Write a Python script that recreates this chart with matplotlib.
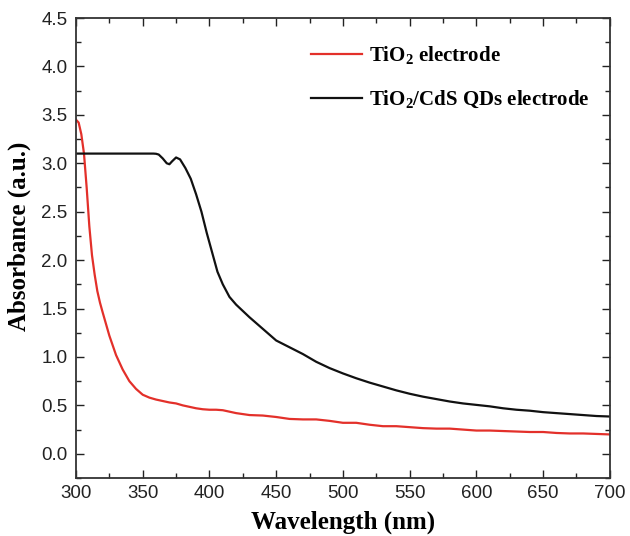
import matplotlib
matplotlib.use("Agg")
import matplotlib.pyplot as plt
from matplotlib.ticker import MultipleLocator

# TiO2 electrode
tio2_wl = [300, 302, 304, 306, 308, 310, 312, 314, 316, 318, 320, 325, 330,
           335, 340, 345, 350, 355, 360, 365, 370, 375, 380, 385, 390, 395,
           400, 405, 410, 415, 420, 430, 440, 450, 460, 470, 480, 490, 500,
           510, 520, 530, 540, 550, 560, 570, 580, 590, 600, 610, 620, 630,
           640, 650, 660, 670, 680, 690, 700]
tio2_abs = [3.45, 3.42, 3.30, 3.10, 2.75, 2.35, 2.05, 1.85, 1.68, 1.56, 1.46,
            1.22, 1.02, 0.87, 0.75, 0.67, 0.61, 0.58, 0.56, 0.545, 0.53, 0.52,
            0.50, 0.485, 0.47, 0.46, 0.455, 0.455, 0.45, 0.435, 0.42, 0.40,
            0.395, 0.38, 0.36, 0.355, 0.355, 0.34, 0.32, 0.32, 0.30, 0.285,
            0.285, 0.275, 0.265, 0.26, 0.26, 0.25, 0.24, 0.24, 0.235, 0.23,
            0.225, 0.225, 0.215, 0.21, 0.21, 0.205, 0.20]

# TiO2/CdS QDs electrode
cds_wl = [300, 320, 340, 358, 360, 362, 365, 368, 370, 372, 375, 378, 382,
          386, 390, 394, 398, 402, 406, 410, 415, 420, 430, 440, 450, 460,
          470, 480, 490, 500, 510, 520, 530, 540, 550, 560, 570, 580, 590,
          600, 610, 620, 630, 640, 650, 660, 670, 680, 690, 700]
cds_abs = [3.10, 3.10, 3.10, 3.10, 3.098, 3.09, 3.05, 3.00, 2.99, 3.02, 3.06,
           3.04, 2.95, 2.84, 2.68, 2.50, 2.28, 2.08, 1.88, 1.75, 1.62, 1.54,
           1.41, 1.29, 1.17, 1.10, 1.03, 0.95, 0.885, 0.83, 0.78, 0.735,
           0.695, 0.655, 0.62, 0.59, 0.565, 0.54, 0.52, 0.505, 0.49, 0.47,
           0.455, 0.445, 0.43, 0.42, 0.41, 0.40, 0.39, 0.385]

plt.rcParams["font.family"] = "Liberation Sans"
plt.rcParams["mathtext.fontset"] = "custom"
plt.rcParams["mathtext.rm"] = "Liberation Serif:bold"
plt.rcParams["mathtext.it"] = "Liberation Serif:bold"
plt.rcParams["mathtext.bf"] = "Liberation Serif:bold"

fig = plt.figure(figsize=(6.3, 5.36), dpi=100)
ax = fig.add_axes([0.1206, 0.1082, 0.8474, 0.8582])

ax.plot(tio2_wl, tio2_abs, color="#e3302a", lw=1.6,
        label=r"TiO$_\mathbf{2}$ electrode")
ax.plot(cds_wl, cds_abs, color="#111111", lw=1.6,
        label=r"TiO$_\mathbf{2}$/CdS QDs electrode")

ax.set_xlim(300, 700)
ax.set_ylim(-0.25, 4.5)
ax.xaxis.set_major_locator(MultipleLocator(50))
ax.xaxis.set_minor_locator(MultipleLocator(25))
ax.yaxis.set_major_locator(MultipleLocator(0.5))
ax.yaxis.set_minor_locator(MultipleLocator(0.25))
ax.yaxis.set_major_formatter(plt.FormatStrFormatter("%.1f"))
ax.tick_params(which="both", direction="in", top=True, right=True,
               width=1.0, labelsize=13.5, colors="#222222")
ax.tick_params(which="major", length=6)
ax.tick_params(axis="x", which="major", pad=5)
ax.tick_params(axis="y", which="major", pad=6)
ax.tick_params(which="minor", length=3.5)
for s in ax.spines.values():
    s.set_linewidth(1.3)
    s.set_color("#333333")

ax.set_xlabel("Wavelength (nm)", family="Liberation Serif", weight="bold",
              fontsize=18)
ax.set_ylabel("Absorbance (a.u.)", family="Liberation Serif", weight="bold",
              fontsize=18)
ax.xaxis.set_label_coords(0.5, -0.07)
ax.yaxis.set_label_coords(-0.084, 0.526)

leg = ax.legend(loc="upper left", bbox_to_anchor=(0.44, 0.943), frameon=False,
                borderpad=0, borderaxespad=0,
                prop={"family": "Liberation Serif", "weight": "bold", "size": 15},
                handlelength=2.45, handletextpad=0.35, labelspacing=1.1)

fig.savefig("out.png", dpi=100)
